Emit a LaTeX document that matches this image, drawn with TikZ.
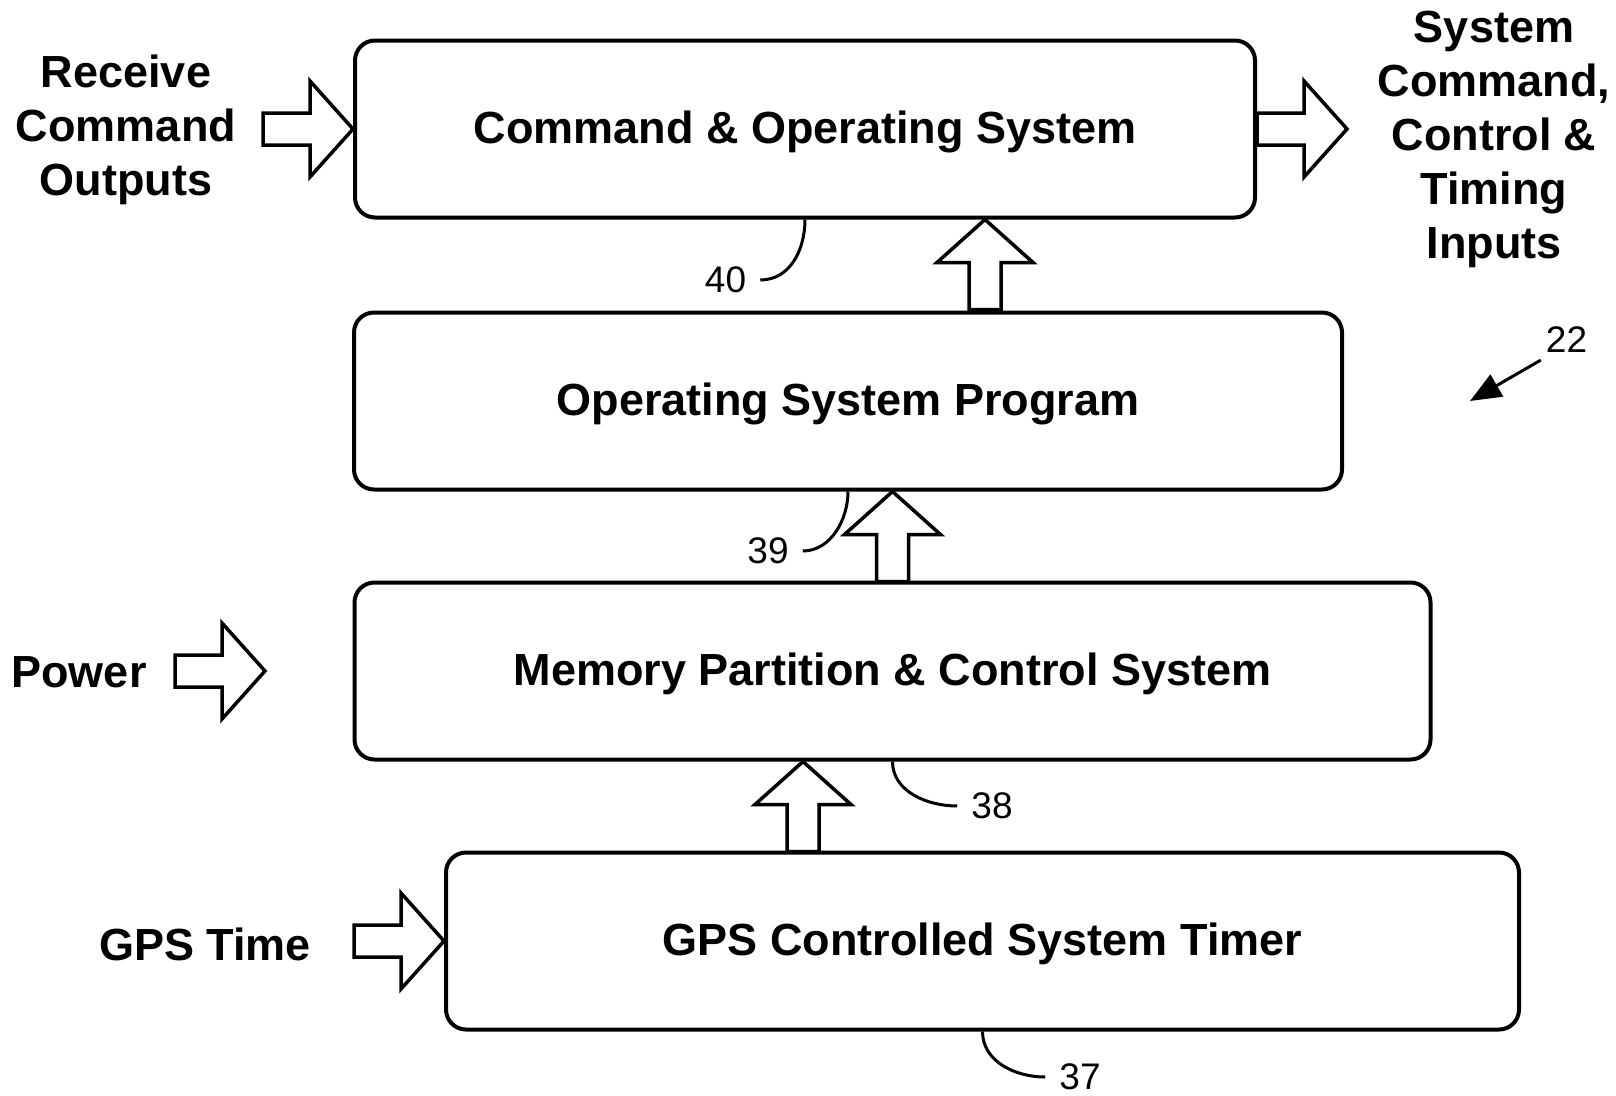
\documentclass[tikz,border=0pt]{standalone}
\usepackage{fontspec}
\setmainfont{Liberation Sans}
\usetikzlibrary{arrows.meta,calc}
\tikzset{
	every node/.style={
		font=\fontsize{45}{54}\selectfont\bfseries
	},
	blk/.style={
		draw,
		line width=4pt,
		rounded corners=20pt,
		minimum height=177pt,
		text depth=3pt
	},
	refnum/.style={
		font=\fontsize{37}{40}\selectfont,
		inner xsep=14pt,
		inner ysep=2pt
	},
	leader/.style={line width=3pt},
	blockarrow/.pic={
		\draw[line width=3.5pt, line join=miter]
			(0,0) -- (-43,-48) -- (-43,-16) -- (-90,-16) -- (-90,16) -- (-43,16) -- (-43,48) -- cycle;
	}
}

\begin{document}
\begin{tikzpicture}[x=1pt,y=-1pt]
	\useasboundingbox (0,0) rectangle (1616,1095);

	% the four blocks
	\node[blk, minimum width=900pt] (cos) at (805,129) {Command \& Operating System};
	\node[blk, minimum width=988pt] (ops) at (848,401) {Operating System Program};
	\node[blk, minimum width=1076pt] (mem) at (892.5,671) {Memory Partition \& Control System};
	\node[blk, minimum width=1073pt] (gps) at (982.5,941) {GPS Controlled System Timer};

	% outside inputs and outputs
	\node[align=center] (rcv) at (126,130) {Receive\\Command\\Outputs};
	\node[align=center] (sys) at (1494,139) {System\\Command,\\Control \&\\Timing\\Inputs};
	\node (pwr) at (79,672) {Power};
	\node (gpst) at (205,944) {GPS Time};

	\pic at (cos.west) {blockarrow};
	\pic at ($(cos.east)+(90,0)$) {blockarrow};
	\pic at (gps.west) {blockarrow};
	\pic at ($(mem.west)+(-87.5,0)$) {blockarrow};

	% upward flow
	\pic[rotate=90] at ($(cos.south)+(180,0)$) {blockarrow};
	\pic[rotate=90] at ($(ops.south)+(44.5,0)$) {blockarrow};
	\pic[rotate=90] at ($(mem.south)+(-89.5,0)$) {blockarrow};

	% reference numerals
	\node[refnum] (n40) at (725.5,280) {40};
	\node[refnum] (n39) at (768,551) {39};
	\node[refnum] (n38) at (992,806) {38};
	\node[refnum] (n37) at (1080,1077) {37};
	\node[refnum] (n22) at (1566.5,340) {22};
	\coordinate (t22) at (1470,401);

	\draw[leader] (n40.east) .. controls ($(n40.east)+(30,0)$) and ($(cos.south)+(0,30)$) .. (cos.south);
	\draw[leader] (n39.east) .. controls ($(n39.east)+(28,0)$) and ($(ops.south)+(0,28)$) .. (ops.south);
	\draw[leader] (mem.south) .. controls ($(mem.south)+(0,30)$) and ($(n38.west)+(-30,0)$) .. (n38.west);
	\draw[leader] (gps.south) .. controls ($(gps.south)+(0,30)$) and ($(n37.west)+(-30,0)$) .. (n37.west);
	\draw[line width=3pt, -{Triangle[length=31pt,width=25pt]}] ($(n22.south west)+(9,5)$) -- (t22);
\end{tikzpicture}
\end{document}
